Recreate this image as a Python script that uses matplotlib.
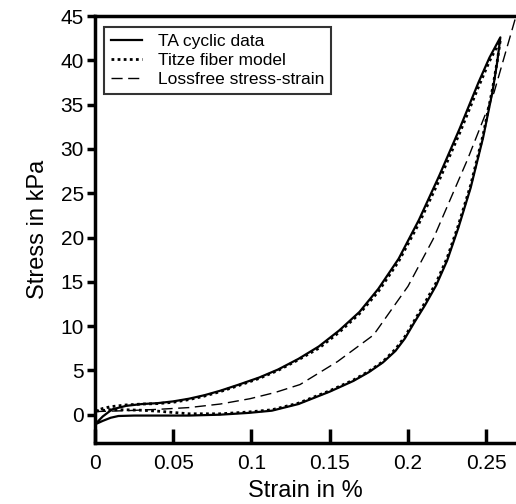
import matplotlib
matplotlib.use("Agg")
import matplotlib.pyplot as plt

plt.rcParams['font.family'] = ['Liberation Sans', 'DejaVu Sans']

# TA cyclic data: loading (upper) branch, then unloading (lower) branch
load_x = [0, 0.005, 0.011, 0.02, 0.03, 0.04, 0.05, 0.06, 0.07, 0.08, 0.092,
          0.105, 0.117, 0.13, 0.143, 0.156, 0.169, 0.181, 0.194, 0.207,
          0.22, 0.233, 0.245, 0.252, 0.259]
load_y = [-1.1, -0.2, 0.6, 1.0, 1.2, 1.3, 1.5, 1.8, 2.2, 2.7, 3.4,
          4.2, 5.1, 6.3, 7.7, 9.5, 11.6, 14.2, 17.6, 22.0,
          27.0, 32.3, 37.5, 40.3, 42.6]
unload_x = [0.259, 0.257, 0.254, 0.248, 0.24, 0.232, 0.225, 0.218, 0.211,
            0.204, 0.198, 0.192, 0.184, 0.175, 0.165, 0.15, 0.13, 0.113,
            0.098, 0.08, 0.06, 0.04, 0.025, 0.015, 0.01, 0.005, 0]
unload_y = [42.6, 39.8, 36.5, 31.3, 25.6, 21.0, 17.4, 14.6, 12.4,
            10.4, 8.6, 7.2, 5.9, 4.8, 3.8, 2.6, 1.2, 0.45,
            0.2, 0.0, -0.1, -0.1, -0.1, -0.15, -0.35, -0.7, -1.1]

# Titze fiber model
model_load_x = [0, 0.005, 0.01, 0.02, 0.03, 0.04, 0.05, 0.06, 0.07, 0.08, 0.092,
                0.105, 0.117, 0.13, 0.143, 0.156, 0.169, 0.181, 0.194, 0.207,
                0.22, 0.233, 0.245, 0.252, 0.259]
model_load_y = [0.4, 0.7, 0.9, 1.1, 1.2, 1.25, 1.4, 1.7, 2.1, 2.6, 3.3,
                4.1, 5.0, 6.2, 7.5, 9.3, 11.4, 13.9, 17.3, 21.6,
                26.5, 31.8, 37.0, 39.9, 42.3]
model_unload_x = [0.259, 0.257, 0.254, 0.248, 0.24, 0.232, 0.225, 0.218, 0.211,
                  0.204, 0.198, 0.192, 0.184, 0.175, 0.165, 0.15, 0.13, 0.113,
                  0.098, 0.08, 0.06, 0.05, 0.04, 0.03, 0.02, 0.01, 0]
model_unload_y = [42.3, 39.9, 36.8, 31.6, 25.9, 21.3, 17.7, 14.9, 12.7,
                  10.6, 8.8, 7.4, 6.0, 4.9, 3.9, 2.7, 1.3, 0.55,
                  0.3, 0.1, 0.1, 0.25, 0.4, 0.5, 0.55, 0.55, 0.4]

# Lossfree stress-strain
free_x = [0, 0.02, 0.04, 0.06, 0.08, 0.099, 0.115, 0.131, 0.155, 0.178,
          0.2, 0.216, 0.238, 0.255, 0.269]
free_y = [0.35, 0.45, 0.6, 0.8, 1.2, 1.8, 2.5, 3.4, 6.0, 9.0,
          14.5, 19.8, 28.8, 36.4, 45.0]

x_ticks = [0, 0.05, 0.1, 0.15, 0.2, 0.25]
x_labels = ['0', '0.05', '0.1', '0.15', '0.2', '0.25']
y_ticks = [0, 5, 10, 15, 20, 25, 30, 35, 40, 45]

fig = plt.figure(figsize=(5.16, 5.04), dpi=100)
ax = fig.add_axes([0.184, 0.121, 0.816, 0.847])

ax.plot(load_x + unload_x[1:], load_y + unload_y[1:], color='black',
        lw=1.6, ls='-', label='TA cyclic data')
ax.plot(model_load_x + model_unload_x[1:], model_load_y + model_unload_y[1:],
        color='black', lw=2.0, ls=(0, (1, 1.2)), label='Titze fiber model')
ax.plot(free_x, free_y, color='black', lw=1.0, ls=(0, (8, 4)),
        label='Lossfree stress-strain')

ax.set_xlim(0, 0.269)
ax.set_ylim(-3.2, 45)
ax.set_xticks(x_ticks)
ax.set_xticklabels(x_labels)
ax.set_yticks(y_ticks)

for side in ['left', 'bottom', 'top']:
    ax.spines[side].set_linewidth(2.5)
ax.spines['right'].set_visible(False)

ax.tick_params(axis='x', direction='in', length=10, width=2.5,
               labelsize=15, pad=8)
ax.tick_params(axis='y', direction='out', length=6, width=2.5,
               labelsize=15, pad=2)

ax.set_xlabel('Strain in %', fontsize=17, labelpad=5)
ax.set_ylabel('Stress in kPa', fontsize=17, labelpad=8)

leg = ax.legend(loc='upper left', bbox_to_anchor=(0.022, 0.975), fontsize=12.5,
                frameon=True, fancybox=False, handlelength=1.8,
                borderpad=0.4, labelspacing=0.22, handletextpad=0.9,
                borderaxespad=0.0)
leg.get_frame().set_edgecolor('black')
leg.get_frame().set_linewidth(1.5)

fig.savefig('out.png', dpi=100)
